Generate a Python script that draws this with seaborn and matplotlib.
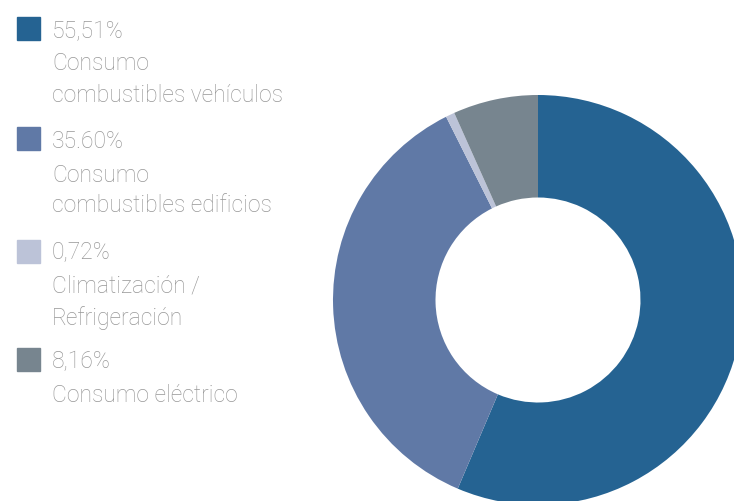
import matplotlib
matplotlib.use("Agg")
import matplotlib.pyplot as plt
import seaborn as sns

sns.set_theme(style="white")
plt.rcParams['font.family'] = ['Roboto', 'DejaVu Sans']

# data: slice sizes as drawn in the picture, labels as printed
slice_sizes = [56.4, 36.2, 0.7, 6.7]
pct_labels = ["55,51%", "35.60%", "0,72%", "8,16%"]
names = [["Consumo", "combustibles vehículos"],
         ["Consumo", "combustibles edificios"],
         ["Climatización /", "Refrigeración"],
         ["Consumo eléctrico"]]
colors = sns.color_palette(["#256392", "#6079a6", "#bcc3d8", "#77858f"])

W, H = 734, 501
fig = plt.figure(figsize=(W / 100, H / 100), dpi=100)
fig.patch.set_facecolor("white")

# donut, partly cut off by the figure edges
cx, cy, r = 538, 300, 205
ax = fig.add_axes([(cx - r) / W, (H - cy - r) / H, 2 * r / W, 2 * r / H])
ax.pie(slice_sizes, colors=colors, startangle=90, counterclock=False,
       radius=1, wedgeprops=dict(width=0.5, edgecolor="none"))
ax.set_xlim(-1, 1)
ax.set_ylim(-1, 1)
ax.set_aspect("equal")
ax.axis("off")

# legend on the left
sq_top = [17, 127, 240, 348]
txt_y = [[32, 64, 96], [142, 175, 206], [252, 286, 318], [362, 396]]
sq = 23
grey = "#979797"
for i in range(len(slice_sizes)):
    fig.patches.append(plt.Rectangle((17 / W, (H - sq_top[i] - sq) / H), sq / W, sq / H,
                                     transform=fig.transFigure, color=colors[i]))
    lines = [pct_labels[i]] + names[i]
    for y, s in zip(txt_y[i], lines):
        fig.text(52 / W, (H - y) / H, s, fontsize=16.5, color=grey,
                 fontweight="light", va="center", ha="left")

fig.savefig("out.png", dpi=100)
